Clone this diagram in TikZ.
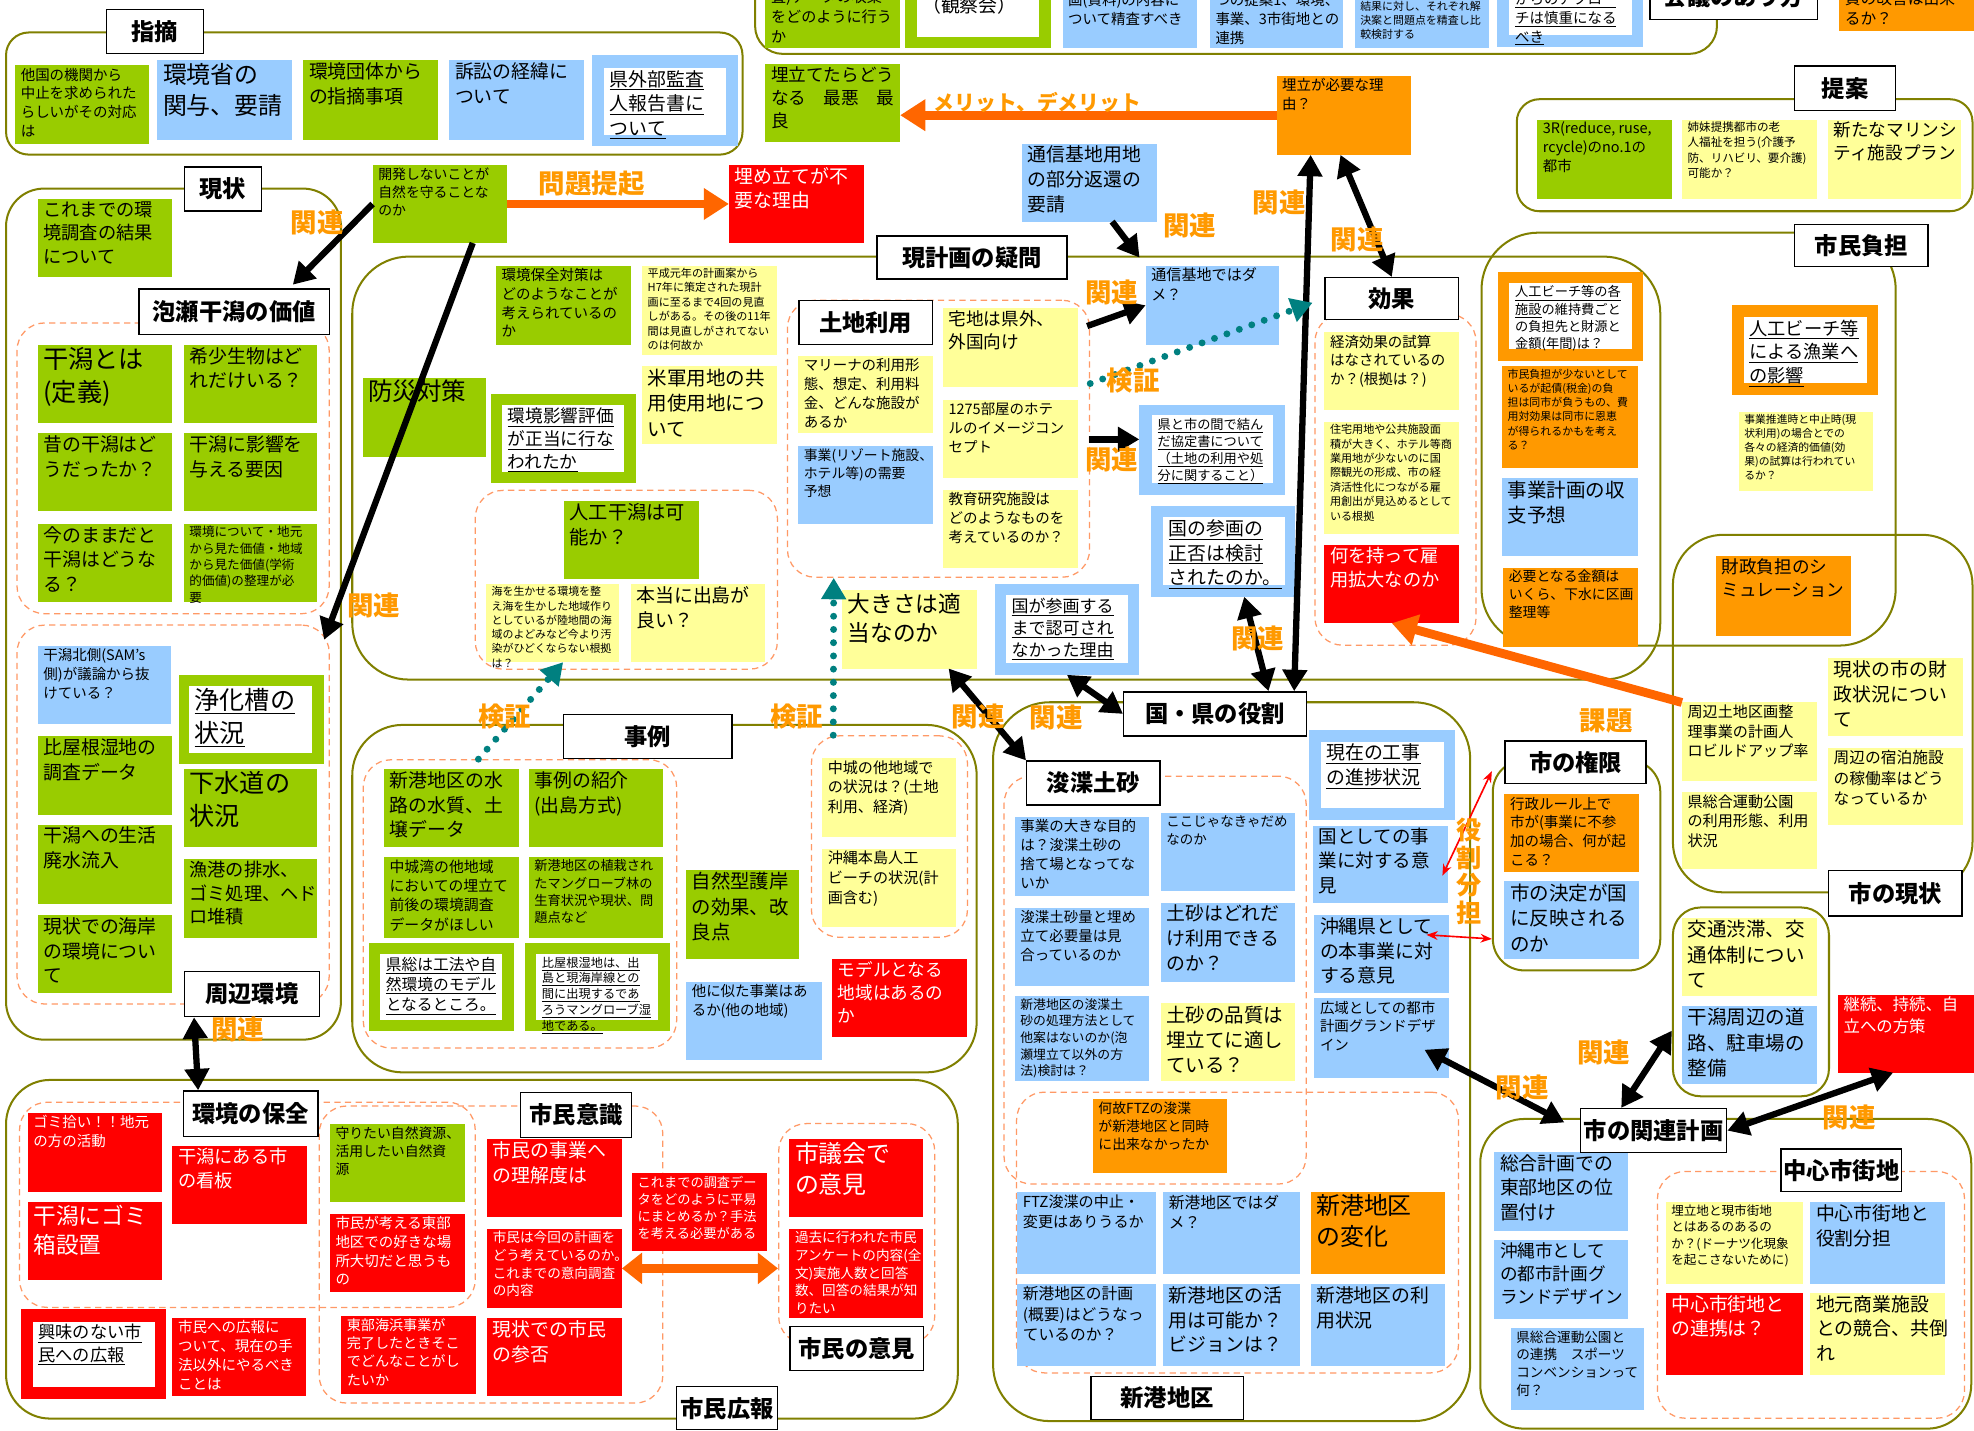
\documentclass[tikz,border=0pt]{standalone}
\usepackage{fontspec}
\setmainfont{Noto Sans CJK JP}
\usepackage{tikz}
\usetikzlibrary{arrows.meta}
\definecolor{leafgreen}{RGB}{153,204,0}
\definecolor{skyblue}{RGB}{153,204,255}
\definecolor{paleyellow}{RGB}{255,255,153}
\definecolor{amber}{RGB}{255,153,0}
\definecolor{alertred}{RGB}{255,0,0}
\definecolor{ringolive}{RGB}{128,128,0}
\definecolor{dashorange}{RGB}{255,153,102}
\definecolor{arroworange}{RGB}{255,102,0}
\definecolor{checkteal}{RGB}{0,128,128}
\newcommand{\uln}[1]{\underline{#1}}
\newcommand{\memo}[8]{%
  \node[#1, minimum width=#5pt, minimum height=#6pt] (#2) at (#3,#4)
    {\parbox[c][#6pt][t]{\dimexpr#5pt-9pt\relax}{\fontsize{#7}{#7}\selectfont
     \baselineskip=1.3\baselineskip\vspace*{2pt}#8}};}

\begin{document}
\begin{tikzpicture}[x=1pt, y=-1pt,
  memo/.style={anchor=north west, inner xsep=4.5pt, inner ysep=0pt, outer sep=0pt},
  gbox/.style={memo, fill=leafgreen},
  bbox/.style={memo, fill=skyblue},
  ybox/.style={memo, fill=paleyellow},
  obox/.style={memo, fill=amber},
  rbox/.style={memo, fill=alertred, text=white},
  wbox/.style={memo, fill=white},
  ring/.style={draw=ringolive, line width=1.6pt, anchor=north west, inner sep=0pt},
  grp/.style={draw=dashorange, line width=1pt, dash pattern=on 5pt off 3.5pt,
              rounded corners=22pt, anchor=north west, inner sep=0pt},
  head/.style={draw=black, line width=1.1pt, fill=white, anchor=north west, inner sep=0pt,
               font=\fontsize{18.5}{18.5}\selectfont\bfseries},
  rellbl/.style={text=amber, font=\fontsize{21}{21}\selectfont\bfseries},
  link/.style={line width=5pt, -{Triangle[length=17pt,width=19pt]}},
  both/.style={line width=5pt, {Triangle[length=17pt,width=19pt]}-{Triangle[length=17pt,width=19pt]}},
  push/.style={draw=arroworange, line width=7pt, -{Triangle[length=20pt,width=24pt]}},
  pushboth/.style={draw=arroworange, line width=7pt,
                   {Triangle[length=16pt,width=24pt]}-{Triangle[length=16pt,width=24pt]}},
  verify/.style={draw=checkteal, line width=5.5pt, dash pattern=on 0pt off 10.5pt, line cap=round,
                 -{Triangle[length=17pt,width=19pt,fill=checkteal]}},
  share/.style={draw=red, line width=1.3pt, {Stealth[length=9pt,width=7pt]}-{Stealth[length=9pt,width=7pt]}},
]
\useasboundingbox (0,0) rectangle (1568,1136);
\fill[white] (0,0) rectangle (1568,1136);
\clip (0,0) rectangle (1568,1136);

% containers
\node[ring, rounded corners=22pt, minimum width=764pt, minimum height=102pt] (kaigi) at (599,-60) {};
\node[ring, rounded corners=18pt, minimum width=585pt, minimum height=97pt] (shiteki) at (4,25) {};
\node[ring, rounded corners=18pt, minimum width=362pt, minimum height=89pt] (teian) at (1204,78) {};
\node[ring, rounded corners=30pt, minimum width=266pt, minimum height=676pt] (genjou) at (4,149) {};
\node[ring, rounded corners=45pt, minimum width=1039pt, minimum height=336pt] (gimon) at (279,203) {};
\node[ring, rounded corners=45pt, minimum width=329pt, minimum height=328pt] (futan) at (1176,184) {};
\node[ring, rounded corners=40pt, minimum width=238pt, minimum height=284pt] (shigenjou) at (1328,424) {};
\node[ring, rounded corners=40pt, minimum width=496pt, minimum height=276pt] (jirei) at (279,575) {};
\node[ring, rounded corners=45pt, minimum width=379pt, minimum height=571pt] (kuniken) at (788,557) {};
\node[ring, rounded corners=25pt, minimum width=133pt, minimum height=167pt] (kengen) at (1185,603) {};
\node[ring, rounded corners=22pt, minimum width=124pt, minimum height=150pt] (koutsu) at (1328,720) {};
\node[ring, rounded corners=35pt, minimum width=390pt, minimum height=246pt] (kanren) at (1175,888) {};
\node[ring, rounded corners=35pt, minimum width=756pt, minimum height=269pt] (kouhou) at (4,857) {};

\node[grp, minimum width=248pt, minimum height=231pt] (kachi) at (13,256) {};
\node[grp, minimum width=248pt, minimum height=301pt] (shuhen) at (13,496) {};
\node[grp, minimum width=240pt, minimum height=142pt] (jinkou) at (377,389) {};
\node[grp, minimum width=240pt, minimum height=220pt] (tochi) at (625,238) {};
\node[grp, minimum width=128pt, minimum height=263pt] (kouka) at (1044,249) {};
\node[grp, minimum width=249pt, minimum height=229pt] (jirei-grp) at (288,603) {};
\node[grp, minimum width=124pt, minimum height=160pt] (chuujou) at (644,584) {};
\node[grp, minimum width=240pt, minimum height=324pt] (shunsetsu) at (797,616) {};
\node[grp, minimum width=351pt, minimum height=223pt] (shinkou) at (807,867) {};
\node[grp, minimum width=244pt, minimum height=196pt] (chuushin) at (1316,930) {};
\node[grp, minimum width=362pt, minimum height=163pt] (hozen) at (15,875) {};
\node[grp, minimum width=273pt, minimum height=236pt] (ishiki) at (253,878) {};
\node[grp, minimum width=124pt, minimum height=175pt] (iken) at (618,892) {};

% top strip
\memo{gbox}{chousa}{608}{-10}{107}{48}{12}{査)データの収集\\をどのように行う\\か}
\memo{gbox}{kansatsu}{719}{-20}{116}{58}{10}{}
\memo{wbox}{kansatsu-in}{728}{-5}{97}{34}{15}{（観察会）}
\memo{bbox}{seisa}{844}{-7}{107}{45}{11.5}{画(資料)の内容に\\ついて精査すべき}
\memo{bbox}{renkei}{961}{-7}{106}{45}{11.5}{つの提案1、環境、\\事業、3市街地との\\連携}
\memo{bbox}{hikaku}{1076}{-1}{107}{39}{8.7}{結果に対し、それぞれ解\\決案と問題点を精査し比\\較検討する}
\memo{bbox}{approach}{1189}{-30}{116}{67}{10}{}
\memo{wbox}{approach-in}{1199}{-8}{97}{36}{11.5}{\uln{からのアプロー}\\\uln{チは慎重になる}\\\uln{べき}}
\memo{obox}{shishitsu}{1461}{-9}{110}{34}{12.5}{質の改善は出来\\るか？}

% shiteki
\memo{gbox}{tagoku}{12}{52}{106}{62}{11.5}{他国の機関から\\中止を求められた\\らしいがその対応\\は}
\memo{bbox}{kankyoushou}{125}{48}{107}{63}{19}{環境省の\\関与、要請}
\memo{gbox}{dantai}{241}{48}{107}{63}{15}{環境団体から\\の指摘事項}
\memo{bbox}{soshou}{357}{48}{107}{63}{15}{訴訟の経緯に\\ついて}
\memo{bbox}{kengai}{470}{44}{116}{72}{10}{}
\memo{wbox}{kengai-in}{480}{54}{97}{53}{15}{\uln{県外部監査}\\\uln{人報告書に}\\\uln{ついて}}

% genjou
\memo{gbox}{madeno}{30}{158}{107}{62}{14.5}{これまでの環\\境調査の結果\\について}
\memo{gbox}{teigi}{30}{274}{107}{62}{20}{干潟とは\\(定義)}
\memo{gbox}{kishou}{146}{274}{106}{62}{15}{希少生物はど\\れだけいる？}
\memo{gbox}{mukashi}{30}{344}{107}{62}{15}{昔の干潟はど\\うだったか？}
\memo{gbox}{eikyou}{146}{344}{106}{62}{15}{干潟に影響を\\与える要因}
\memo{gbox}{imano}{30}{416}{107}{62}{15}{今のままだと\\干潟はどうな\\る？}
\memo{gbox}{kachiseiri}{146}{416}{106}{62}{10}{環境について・地元\\から見た価値・地域\\から見た価値(学術\\的価値)の整理が必\\要}
\memo{bbox}{kitagawa}{30}{513}{106}{62}{11.5}{干潟北側(SAM's\\側)が議論から抜\\けている？}
\memo{gbox}{joukasou}{142}{536}{115}{71}{10}{}
\memo{wbox}{joukasou-in}{150}{545}{98}{53}{20}{\uln{浄化槽の}\\\uln{状況}}
\memo{gbox}{hiyagon}{30}{585}{107}{62}{15}{比屋根湿地の\\調査データ}
\memo{gbox}{gesuidou}{146}{611}{106}{62}{20}{下水道の\\状況}
\memo{gbox}{haisui}{30}{655}{107}{63}{15}{干潟への生活\\廃水流入}
\memo{gbox}{gyokou}{146}{682}{106}{63}{14.5}{漁港の排水、\\ゴミ処理、ヘド\\ロ堆積}
\memo{gbox}{kaigan}{30}{727}{107}{62}{15}{現状での海岸\\の環境につい\\て}

% middle top
\memo{gbox}{kaihatsu}{296}{131}{107}{62}{11}{開発しないことが\\自然を守ることな\\のか}
\memo{rbox}{fuyou}{579}{131}{107}{62}{15}{埋め立てが不\\要な理由}
\memo{gbox}{umetatedou}{608}{51}{107}{62}{14}{埋立てたらどう\\なる　最悪　最\\良}
\memo{obox}{hitsuyou}{1014}{60}{107}{63}{11.5}{埋立が必要な理\\由？}
\memo{bbox}{youchi}{812}{114}{107}{62}{15}{通信基地用地\\の部分返還の\\要請}

% teian
\memo{gbox}{threeR}{1221}{95}{107}{63}{11.5}{3R(reduce,~ruse,\\rcycle)のno.1の\\都市}
\memo{ybox}{shimai}{1336}{95}{107}{63}{9.2}{姉妹提携都市の老\\人福祉を担う(介護予\\防、リハビリ、要介護)\\可能か？}
\memo{ybox}{marine}{1452}{95}{106}{63}{14}{新たなマリンシ\\ティ施設プラン}

% gimon
\memo{gbox}{bousai}{288}{300}{98}{63}{19.5}{防災対策}
\memo{gbox}{hozentaisaku}{394}{211}{107}{63}{11.5}{環境保全対策は\\どのようなことが\\考えられているの\\か}
\memo{ybox}{heisei}{510}{211}{107}{71}{8.8}{平成元年の計画案から\\H7年に策定された現計\\画に至るまで4回の見直\\しがある。その後の11年\\間は見直しがされてない\\のは何故か}
\memo{gbox}{hyouka}{390}{313}{115}{71}{10}{}
\memo{wbox}{hyouka-in}{399}{322}{97}{53}{14}{\uln{環境影響評価}\\\uln{が正当に行な}\\\uln{われたか}}
\memo{ybox}{beigun}{510}{291}{107}{62}{15.5}{米軍用地の共\\用使用地につ\\いて}
\memo{gbox}{jinkouhigata}{448}{398}{107}{62}{15.3}{人工干潟は可\\能か？}
\memo{ybox}{umi}{386}{464}{106}{62}{8.7}{海を生かせる環境を整\\え海を生かした地域作り\\としているが陸地間の海\\域のよどみなど今より汚\\染がひどくならない根拠\\は？}
\memo{ybox}{dejima}{501}{464}{107}{62}{15}{本当に出島が\\良い？}
\memo{ybox}{marina}{634}{283}{107}{61}{11.5}{マリーナの利用形\\態、想定、利用料\\金、どんな施設が\\あるか}
\memo{bbox}{demand}{634}{354}{107}{62}{11}{事業(リゾート施設、\\ホテル等)の需要\\予想}
\memo{ybox}{takuchi}{749}{245}{107}{62}{14}{宅地は県外、\\外国向け}
\memo{ybox}{hotel}{749}{318}{107}{62}{11.5}{1275部屋のホテ\\ルのイメージコン\\セプト}
\memo{ybox}{kyouiku}{749}{389}{107}{62}{11.5}{教育研究施設は\\どのようなものを\\考えているのか？}
\memo{bbox}{dame}{910}{211}{106}{63}{12}{通信基地ではダ\\メ？}
\memo{bbox}{kyoutei}{905}{322}{116}{71}{10}{}
\memo{wbox}{kyoutei-in}{915}{330}{96}{54}{10.5}{\uln{県と市の間で結ん}\\\uln{だ協定書について}\\\uln{（土地の利用や処}\\\uln{分に関すること）}}
\memo{bbox}{seihi}{914}{402}{115}{72}{10}{}
\memo{wbox}{seihi-in}{924}{411}{97}{54}{15}{\uln{国の参画の}\\\uln{正否は検討}\\\uln{されたのか。}}
\memo{bbox}{sankaku}{790}{464}{115}{72}{10}{}
\memo{wbox}{sankaku-in}{799}{473}{97}{54}{13.5}{\uln{国が参画する}\\\uln{まで認可され}\\\uln{なかった理由}}
\memo{ybox}{ookisa}{669}{469}{107}{62}{18}{大きさは適\\当なのか}
\memo{ybox}{keizai}{1052}{264}{107}{62}{11.5}{経済効果の試算\\はなされているの\\か？(根拠は？)}
\memo{ybox}{juutaku}{1052}{335}{107}{89}{8.8}{住宅用地や公共施設面\\積が大きく、ホテル等商\\業用地が少ないのに国\\際観光の形成、市の経\\済活性化につながる雇\\用創出が見込めるとして\\いる根拠}
\memo{rbox}{koyou}{1052}{433}{107}{62}{14.5}{何を持って雇\\用拡大なのか}

% futan
\memo{obox}{beach}{1190}{216}{115}{71}{10}{}
\memo{wbox}{beach-in}{1199}{225}{97}{52}{10.5}{\uln{人工ビーチ等の各}\\\uln{施設}の維持費ごと\\の負担先と財源と\\金額(年間)は？}
\memo{obox}{kisai}{1193}{291}{108}{81}{8.7}{市民負担が少ないとして\\いるが起債(税金)の負\\担は同市が負うもの、費\\用対効果は同市に恩恵\\が得られるかもを考え\\る？}
\memo{bbox}{shuushi}{1193}{380}{108}{62}{15.5}{事業計画の収\\支予想}
\memo{obox}{kingaku}{1194}{451}{107}{63}{11}{必要となる金額は\\いくら、下水に区画\\整理等}
\memo{obox}{gyogyou}{1376}{242}{116}{72}{10}{}
\memo{wbox}{gyogyou-in}{1385}{252}{98}{52}{14.5}{\uln{人工ビーチ等}\\\uln{による漁業へ}\\\uln{の影響}}
\memo{ybox}{suishin}{1381}{327}{107}{63}{8.6}{事業推進時と中止時(現\\状利用)の場合とでの\\各々の経済的価値(効\\果)の試算は行われてい\\るか？}

% shi no genjou
\memo{obox}{zaisei}{1363}{442}{107}{63}{14}{財政負担のシ\\ミュレーション}
\memo{ybox}{zaiseijoukyou}{1452}{523}{107}{62}{15}{現状の市の財\\政状況につい\\て}
\memo{ybox}{kukaku}{1336}{558}{107}{62}{12}{周辺土地区画整\\理事業の計画人\\ロビルドアップ率}
\memo{ybox}{shukuhaku}{1452}{594}{107}{61}{12.5}{周辺の宿泊施設\\の稼働率はどう\\なっているか}
\memo{ybox}{kouen}{1336}{629}{107}{61}{12}{県総合運動公園\\の利用形態、利用\\状況}

% jirei
\memo{gbox}{suiro}{305}{611}{107}{62}{15}{新港地区の水\\路の水質、土\\壌データ}
\memo{gbox}{shoukai}{420}{611}{107}{62}{15}{事例の紹介\\(出島方式)}
\memo{gbox}{nakagusuku}{305}{681}{107}{64}{11.8}{中城湾の他地域\\においての埋立て\\前後の環境調査\\データがほしい}
\memo{gbox}{mangrove}{420}{681}{107}{64}{10.5}{新港地区の植栽され\\たマングローブ林の\\生育状況や現状、問\\題点など}
\memo{gbox}{kensou}{293}{749}{115}{70}{10}{}
\memo{wbox}{kensou-in}{302}{758}{97}{52}{12.5}{\uln{県総は工法や自}\\\uln{然環境のモデル}\\\uln{となるところ。}}
\memo{gbox}{shicchi}{417}{749}{115}{70}{10}{}
\memo{wbox}{shicchi-in}{426}{758}{97}{52}{9.7}{\uln{比屋根湿地は、出}\\\uln{島と現海岸線との}\\\uln{間に出現するであ}\\\uln{ろうマングローブ湿}\\\uln{地である。}}
\memo{gbox}{gogan}{545}{691}{90}{71}{15.4}{自然型護岸\\の効果、改\\良点}
\memo{bbox}{niteru}{545}{780}{108}{62}{11.5}{他に似た事業はあ\\るか(他の地域)}
\memo{rbox}{model}{661}{762}{107}{62}{14}{モデルとなる\\地域はあるの\\か}
\memo{ybox}{tachiiki}{653}{602}{106}{63}{12}{中城の他地域で\\の状況は？(土地\\利用、経済)}
\memo{ybox}{beachjoukyou}{653}{674}{106}{62}{12}{沖縄本島人工\\ビーチの状況(計\\画含む)}

% kuni ken
\memo{bbox}{genzai}{1040}{580}{116}{71}{10}{}
\memo{wbox}{genzai-in}{1049}{589}{98}{53}{15}{\uln{現在の工事}\\\uln{の進捗状況}}
\memo{bbox}{kunijigyou}{1043}{656}{107}{61}{14.7}{国としての事\\業に対する意\\見}
\memo{bbox}{okinawa}{1044}{727}{107}{62}{15}{沖縄県として\\の本事業に対\\する意見}
\memo{bbox}{koiki}{1044}{793}{107}{63}{11.5}{広域としての都市\\計画グランドデザ\\イン}
\memo{bbox}{mokuteki}{806}{649}{107}{63}{11.5}{事業の大きな目的\\は？浚渫土砂の\\捨て場となってな\\いか}
\memo{bbox}{kokojanakya}{922}{646}{107}{62}{10.7}{ここじゃなきゃだめ\\なのか}
\memo{bbox}{doshaguryou}{806}{721}{107}{62}{11.5}{浚渫土砂量と埋め\\立て必要量は見\\合っているのか}
\memo{bbox}{doshariyou}{922}{717}{107}{63}{15}{土砂はどれだ\\け利用できる\\のか？}
\memo{bbox}{shori}{806}{791}{107}{68}{10.2}{新港地区の浚渫土\\砂の処理方法として\\他案はないのか(泡\\瀬埋立て以外の方\\法)検討は？}
\memo{ybox}{hinshitsu}{922}{797}{107}{62}{15.5}{土砂の品質は\\埋立てに適し\\ている？}
\memo{obox}{ftz}{868}{873}{107}{59}{11}{何故FTZの浚渫\\が新港地区と同時\\に出来なかったか}
\memo{bbox}{ftzchuushi}{808}{947}{110}{65}{12}{FTZ浚渫の中止・\\変更はありうるか}
\memo{bbox}{shinkoudame}{924}{947}{109}{65}{12.5}{新港地区ではダ\\メ？}
\memo{obox}{henka}{1041}{947}{107}{65}{19}{新港地区\\の変化}
\memo{bbox}{keikaku}{808}{1020}{110}{65}{12.5}{新港地区の計画\\(概要)はどうなっ\\ているのか？}
\memo{bbox}{katsuyou}{924}{1020}{109}{65}{15}{新港地区の活\\用は可能か？\\ビジョンは？}
\memo{bbox}{riyou}{1041}{1020}{107}{65}{15}{新港地区の利\\用状況}

% kengen, koutsu, kanren
\memo{obox}{gyousei}{1195}{631}{107}{62}{11.5}{行政ルール上で\\市が(事業に不参\\加の場合、何が起\\こる？}
\memo{bbox}{kettei}{1195}{700}{107}{62}{15.5}{市の決定が国\\に反映される\\のか}
\memo{ybox}{juutai}{1336}{729}{107}{62}{15.5}{交通渋滞、交\\通体制につい\\て}
\memo{bbox}{douro}{1336}{799}{107}{62}{15.5}{干潟周辺の道\\路、駐車場の\\整備}
\memo{rbox}{keizoku}{1460}{790}{110}{62}{13}{継続、持続、自\\立への方策}
\memo{bbox}{sougou}{1187}{915}{106}{63}{15}{総合計画での\\東部地区の位\\置付け}
\memo{bbox}{toshikeikaku}{1187}{985}{106}{63}{14}{沖縄市として\\の都市計画グ\\ランドデザイン}
\memo{bbox}{sports}{1200}{1055}{106}{65}{10.8}{県総合運動公園と\\の連携　スポーツ\\コンベンションって\\何？}
\memo{ybox}{donut}{1323}{955}{109}{65}{10}{埋立地と現市街地\\とはあるのあるの\\か？(ドーナツ化現象\\を起こさないために)}
\memo{bbox}{buntan}{1438}{955}{107}{65}{15}{中心市街地と\\役割分担}
\memo{rbox}{chuushinrenkei}{1323}{1027}{109}{65}{15}{中心市街地と\\の連携は？}
\memo{ybox}{kyougou}{1438}{1027}{107}{65}{15}{地元商業施設\\との競合、共倒\\れ}

% kouhou
\memo{rbox}{gomihiroi}{22}{884}{107}{63}{11.5}{ゴミ拾い！！地元\\の方の活動}
\memo{rbox}{kanban}{137}{910}{107}{62}{14.5}{干潟にある市\\の看板}
\memo{rbox}{gomibako}{22}{955}{107}{62}{18}{干潟にゴミ\\箱設置}
\memo{gbox}{mamoritai}{262}{893}{107}{62}{11}{守りたい自然資源、\\活用したい自然資\\源}
\memo{rbox}{suki}{262}{964}{107}{62}{11.5}{市民が考える東部\\地区での好きな場\\所大切だと思うも\\の}
\memo{rbox}{rikai}{387}{905}{107}{62}{15}{市民の事業へ\\の理解度は}
\memo{rbox}{konkai}{387}{976}{107}{63}{10.8}{市民は今回の計画を\\どう考えているのか。\\これまでの意向調査\\の内容}
\memo{rbox}{sanpi}{387}{1047}{107}{62}{15}{現状での市民\\の参否}
\memo{rbox}{chousadata}{502}{932}{107}{62}{10.5}{これまでの調査デー\\タをどのように平易\\にまとめるか？手法\\を考える必要がある}
\memo{rbox}{gikai}{627}{905}{106}{62}{19}{市議会で\\の意見}
\memo{rbox}{kako}{627}{976}{106}{71}{10.8}{過去に行われた市民\\アンケートの内容(全\\文)実施人数と回答\\数、回答の結果が知\\りたい}
\memo{rbox}{kyoumi}{17}{1040}{115}{71}{10}{}
\memo{wbox}{kyoumi-in}{26}{1050}{97}{52}{13.7}{\uln{興味のない市}\\\uln{民への広報}}
\memo{rbox}{kouhouni}{137}{1047}{106}{62}{11.5}{市民への広報に\\ついて、現在の手\\法以外にやるべき\\ことは}
\memo{rbox}{toubu}{271}{1045}{107}{62}{11.2}{東部海浜事業が\\完了したときそこ\\でどんなことがし\\たいか}

% headings
\node[head, minimum width=133pt, minimum height=37pt] (kaigi-hd) at (1310,-22) {会議のあり方};
\node[head, minimum width=77pt, minimum height=35pt] (shiteki-hd) at (84,7) {指摘};
\node[head, minimum width=61pt, minimum height=35pt] (genjou-hd) at (146,132) {現状};
\node[head, minimum width=151pt, minimum height=36pt] (awase-hd) at (110,229) {泡瀬干潟の価値};
\node[head, minimum width=107pt, minimum height=36pt] (shuhen-hd) at (146,771) {周辺環境};
\node[head, minimum width=151pt, minimum height=34pt] (gimon-hd) at (696,187) {現計画の疑問};
\node[head, minimum width=106pt, minimum height=35pt] (tochi-hd) at (634,238) {土地利用};
\node[head, minimum width=106pt, minimum height=33pt] (kouka-hd) at (1052,220) {効果};
\node[head, minimum width=80pt, minimum height=35pt] (teian-hd) at (1425,52) {提案};
\node[head, minimum width=106pt, minimum height=33pt] (futan-hd) at (1425,178) {市民負担};
\node[head, minimum width=106pt, minimum height=36pt] (shigenjou-hd) at (1452,691) {市の現状};
\node[head, minimum width=134pt, minimum height=35pt] (jirei-hd) at (447,567) {事例};
\node[head, minimum width=145pt, minimum height=35pt] (kuniken-hd) at (892,549) {国・県の役割};
\node[head, minimum width=106pt, minimum height=35pt] (shunsetsu-hd) at (815,604) {浚渫土砂};
\node[head, minimum width=121pt, minimum height=34pt] (shinkou-hd) at (866,1093) {新港地区};
\node[head, minimum width=112pt, minimum height=34pt] (kengen-hd) at (1195,588) {市の権限};
\node[head, minimum width=116pt, minimum height=35pt] (kanren-hd) at (1255,880) {市の関連計画};
\node[head, minimum width=96pt, minimum height=34pt] (chuushin-hd) at (1414,912) {中心市街地};
\node[head, minimum width=107pt, minimum height=36pt] (hozen-hd) at (145,866) {環境の保全};
\node[head, minimum width=88pt, minimum height=36pt] (ishiki-hd) at (413,867) {市民意識};
\node[head, minimum width=106pt, minimum height=35pt] (iken-hd) at (627,1053) {市民の意見};
\node[head, minimum width=80pt, minimum height=34pt] (kouhou-hd) at (537,1101) {市民広報};

% connectors
\draw[link, shorten >=4pt] (kaihatsu.west) -- (awase-hd.23);
\draw[link, shorten >=-13pt] (kaihatsu.-50) -- (shuhen.north east);
\draw[push] (kaihatsu.east) -- (fuyou.west);
\draw[push] (hitsuyou.west) -- (umetatedou.east |- hitsuyou.west);
\draw[link, shorten >=8pt] (youchi.-60) -- (dame.north west);
\draw[link, shorten <=8pt] (takuchi.15) -- (dame.west);
\draw[link, shorten <=9pt] (hotel.east) -- (kyoutei.west |- hotel.east);
\draw[both] (hitsuyou.-130) -- (kuniken-hd.16);
\draw[both] (hitsuyou.-95) -- (kouka-hd.north);
\draw[both] (ookisa.-45) -- (shunsetsu-hd.north west);
\draw[both] (sankaku.south) -- (kuniken-hd.west);
\draw[both] (seihi.-65) -- (kuniken-hd.23);
\draw[both, shorten <=-22pt, shorten >=14pt] (koiki.-20) -- (kanren-hd.west);
\draw[both] (kanren-hd.145) -- (koutsu.-160);
\draw[both] (keizoku.-110) -- (kanren-hd.east);
\draw[both] (shuhen-hd.-158) -- (hozen-hd.156);
\draw[pushboth] (konkai.east) -- (iken.west |- konkai.east);
\draw[push] (kukaku.north west) -- (koyou.south);
\draw[verify] (jirei-grp.106) -- (umi.-75);
\draw[verify] (chuujou.119) -- (tochi.-127);
\draw[verify, shorten >=10pt] (tochi.20) -- (kouka-hd.west);
\draw[share, shorten <=-10pt] (kunijigyou.east) -- (kengen.132);
\draw[share, shorten <=-18pt] (okinawa.15) -- (kengen.-139);

% relation words
\node[rellbl] (kan-a) at (252,177) {関連};
\node[rellbl] (kan-b) at (297,481) {関連};
\node[rellbl] (kan-c) at (189,818) {関連};
\node[rellbl] (mondai) at (470,146) {問題提起};
\node[rellbl, font=\fontsize{16.5}{16.5}\selectfont\bfseries] (merit) at (824,81) {メリット、デメリット};
\node[rellbl] (kan-d) at (945,179) {関連};
\node[rellbl] (kan-e) at (1016,161) {関連};
\node[rellbl] (kan-f) at (1078,190) {関連};
\node[rellbl] (kan-g) at (883,232) {関連};
\node[rellbl] (kan-h) at (883,365) {関連};
\node[rellbl] (kenshou-a) at (900,302) {検証};
\node[rellbl] (kenshou-b) at (401,569) {検証};
\node[rellbl] (kenshou-c) at (633,569) {検証};
\node[rellbl] (kan-i) at (777,569) {関連};
\node[rellbl] (kan-j) at (839,570) {関連};
\node[rellbl] (kan-k) at (999,507) {関連};
\node[rellbl] (kadai) at (1276,573) {課題};
\node[rellbl] (kan-l) at (1209,864) {関連};
\node[rellbl] (kan-m) at (1274,836) {関連};
\node[rellbl] (kan-n) at (1469,888) {関連};
\node[rellbl, align=center, font=\fontsize{20}{22}\selectfont\bfseries] (yakuwari-lbl) at (1167,692) {役\\割\\分\\担};
\end{tikzpicture}
\end{document}
